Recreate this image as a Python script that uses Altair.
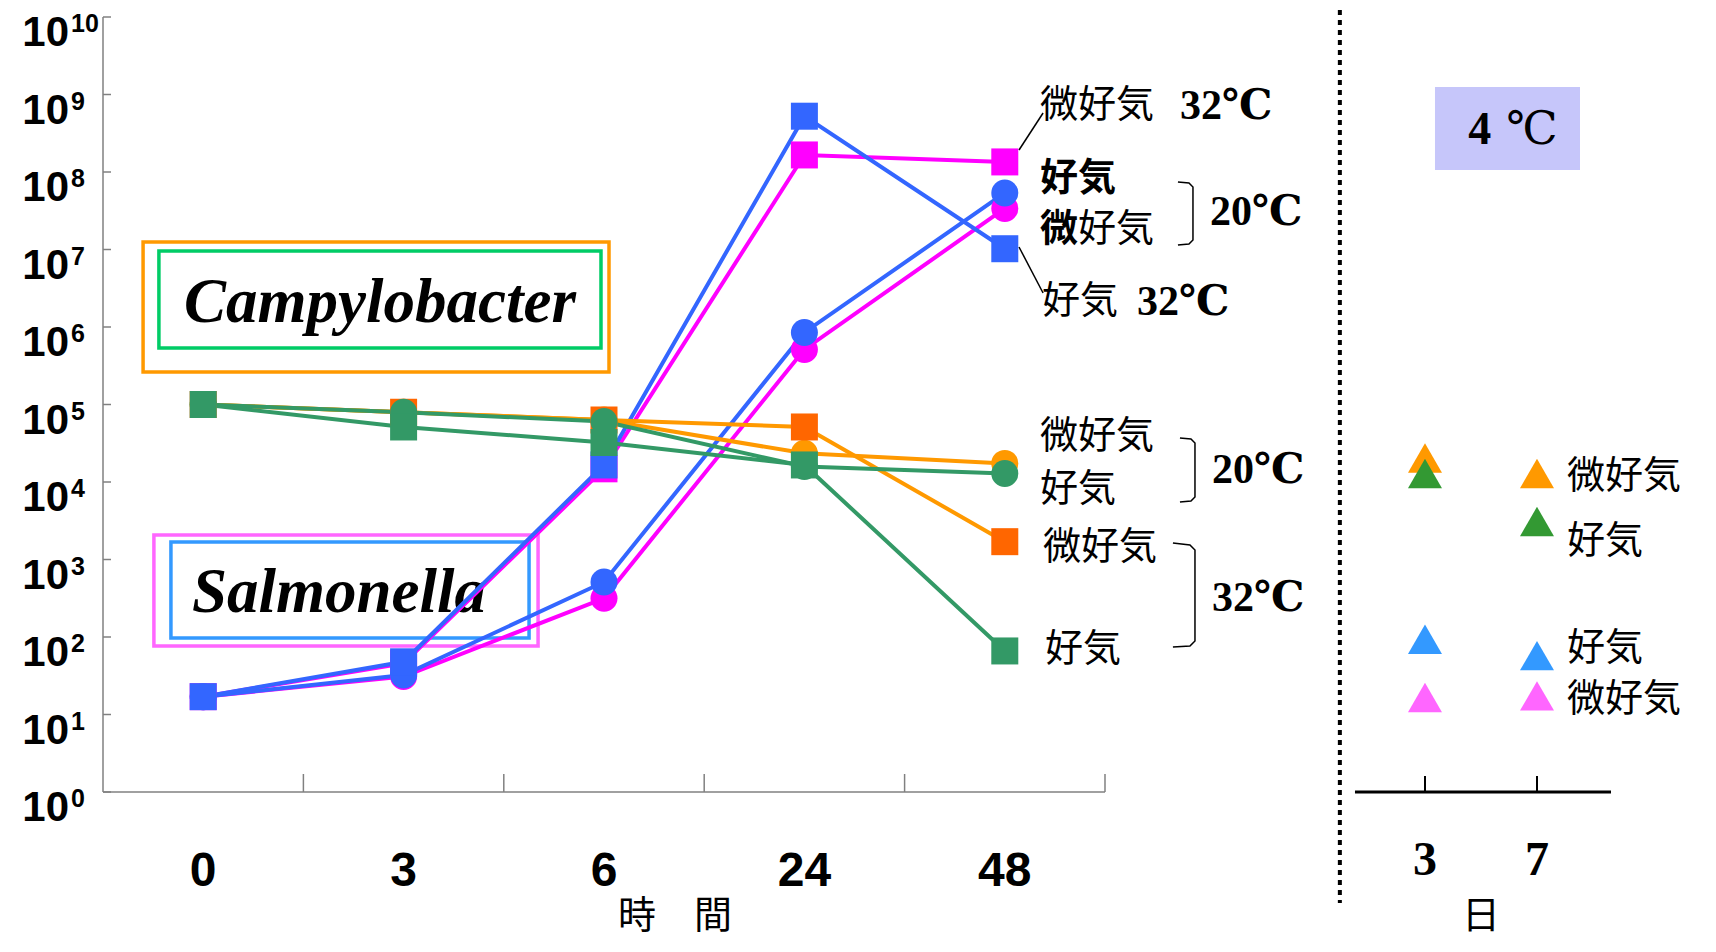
import altair as alt
import pandas as pd

# ---------------- data (log10 CFU) ----------------
categories = ["0", "3", "6", "24", "48"]          # hours
exponents = list(range(11))                        # 10^0 .. 10^10

campy_micro_32 = [5.00, 4.90, 4.80, 4.71, 3.23]
campy_aero_32 = [5.00, 4.71, 4.51, 4.22, 1.82]
campy_micro_20 = [5.00, 4.90, 4.80, 4.37, 4.24]
campy_aero_20 = [5.00, 4.90, 4.78, 4.20, 4.11]
salm_aero_32 = [1.23, 1.68, 4.22, 8.72, 7.01]
salm_micro_32 = [1.23, 1.66, 4.17, 8.22, 8.13]
salm_aero_20 = [1.23, 1.51, 2.71, 5.93, 7.73]
salm_micro_20 = [1.23, 1.49, 2.50, 5.71, 7.53]

days_4c = [3, 7]
campy_micro_4 = [4.31, 4.11]
campy_aero_4 = [4.11, 3.49]
salm_aero_4 = [1.97, 1.76]
salm_micro_4 = [1.22, 1.24]

# ---------------- styles ----------------
series = [  # key, values, shape, line colour, marker colour (drawing order)
    ("salm_micro_20", salm_micro_20, "circle", "#FF00FF", "#FF00FF"),
    ("salm_micro_32", salm_micro_32, "square", "#FF00FF", "#FF00FF"),
    ("salm_aero_20", salm_aero_20, "circle", "#3366FF", "#3366FF"),
    ("salm_aero_32", salm_aero_32, "square", "#3366FF", "#3366FF"),
    ("campy_micro_20", campy_micro_20, "circle", "#FF9900", "#FF9900"),
    ("campy_micro_32", campy_micro_32, "square", "#FF9900", "#FF6600"),
    ("campy_aero_20", campy_aero_20, "circle", "#339966", "#339966"),
    ("campy_aero_32", campy_aero_32, "square", "#339966", "#339966"),
]
tri_series = [
    ("campy_micro_4", campy_micro_4, "#FF9900"),
    ("campy_aero_4", campy_aero_4, "#339933"),
    ("salm_aero_4", salm_aero_4, "#3399FF"),
    ("salm_micro_4", salm_micro_4, "#FF66FF"),
]

W, H = 1508, 775
xL = alt.Scale(domain=[0, 7.525], nice=False, zero=False)        # category-index units
xR = alt.Scale(domain=[-44.21, 9.643], nice=False, zero=False)   # day units
yS = alt.Scale(domain=[0, 10], nice=False, zero=False)

SERIF = "Liberation Serif, DejaVu Serif, Noto Sans CJK JP"
CJK = "Noto Sans CJK JP"
SANS = "Liberation Sans, Arial, DejaVu Sans"
LAB = 38  # size of the Japanese labels


def XL(f):
    return alt.X(f, type="quantitative", scale=xL, axis=None)


def XR(f):
    return alt.X(f, type="quantitative", scale=xR, axis=None)


def Y(f):
    return alt.Y(f, type="quantitative", scale=yS, axis=None)


layers = []

# ---- axes (left) ----
df_exp = pd.DataFrame({"k": exponents, "e": [str(k) for k in exponents]})
layers.append(alt.Chart(pd.DataFrame({"a": [0], "b": [10]})).mark_rule(color="#808080", strokeWidth=1.5)
              .encode(x=alt.value(0), y=Y("a"), y2="b"))
layers.append(alt.Chart(df_exp).mark_rule(color="#808080", strokeWidth=1.5)
              .encode(x=alt.value(0), x2=alt.value(8), y=Y("k")))
layers.append(alt.Chart(df_exp).mark_text(font=SANS, fontWeight="bold", fontSize=42, align="right",
                                          baseline="middle", dy=16)
              .encode(x=alt.value(-34), y=Y("k"), text=alt.value("10")))
layers.append(alt.Chart(df_exp).mark_text(font=SANS, fontWeight="bold", fontSize=25, align="left",
                                          baseline="middle", dy=7)
              .encode(x=alt.value(-32), y=Y("k"), text="e:N"))

df_cat = pd.DataFrame({"pos": [i + 0.5 for i in range(len(categories))], "lab": categories,
                       "edge": [i + 1 for i in range(len(categories))], "zero": 0})
layers.append(alt.Chart(pd.DataFrame({"a": [0], "b": [len(categories)], "y": [0]}))
              .mark_rule(color="#808080", strokeWidth=1.5)
              .encode(x=XL("a"), x2="b", y=Y("y")))
layers.append(alt.Chart(df_cat).mark_rule(color="#808080", strokeWidth=1.5)
              .encode(x=XL("edge"), y=Y("zero"), y2=alt.value(H - 18)))
layers.append(alt.Chart(df_cat).mark_text(font=SANS, fontWeight="bold", fontSize=48, baseline="middle")
              .encode(x=XL("pos"), y=alt.value(855), text="lab:N"))
layers.append(alt.Chart(pd.DataFrame({"x": [2.854], "t": ["時　間"]}))
              .mark_text(font=CJK, fontSize=38, baseline="middle")
              .encode(x=XL("x"), y=alt.value(900), text="t:N"))

# ---- annotation boxes ----
boxes = pd.DataFrame({
    "x": [0.200, 0.279, 0.254, 0.339],
    "x2": [2.525, 2.485, 2.171, 2.126],
    "y": [7.097, 6.981, 3.316, 3.226],
    "y2": [5.419, 5.729, 1.884, 1.987],
    "c": ["#FF9900", "#00CC66", "#FF66FF", "#3399FF"],
})
layers.append(alt.Chart(boxes).mark_rect(fill="white", fillOpacity=0, strokeWidth=3.5)
              .encode(x=XL("x"), x2="x2", y=Y("y"), y2="y2", stroke=alt.Stroke("c:N", scale=None)))
layers.append(alt.Chart(pd.DataFrame({"x": [1.382, 1.178], "y": [6.065, 2.323],
                                      "t": ["Campylobacter", "Salmonella"]}))
              .mark_text(font="Liberation Serif", fontStyle="italic", fontWeight="bold", fontSize=63,
                         baseline="alphabetic", align="center")
              .encode(x=XL("x"), y=Y("y"), text="t:N"))

# ---- series lines then markers ----
rows = []
for key, vals, shape, lc, mc in series:
    for i, v in enumerate(vals):
        rows.append({"s": key, "pos": i + 0.5, "v": v, "lc": lc, "mc": mc, "shape": shape})
df_main = pd.DataFrame(rows)
for key, vals, shape, lc, mc in series:
    d = df_main[df_main.s == key]
    layers.append(alt.Chart(d).mark_line(strokeWidth=4, color=lc).encode(x=XL("pos"), y=Y("v")))
for key, vals, shape, lc, mc in series:
    d = df_main[df_main.s == key]
    layers.append(alt.Chart(d).mark_point(filled=True, shape=shape, size=729, opacity=1, color=mc,
                                          strokeWidth=0)
                  .encode(x=XL("pos"), y=Y("v")))

# ---- leader lines and brackets ----
lead = pd.DataFrame({
    "g": ["a", "a", "b", "b"],
    "o": [0, 1, 0, 1],
    "x": [4.571, 4.691, 4.571, 4.691],
    "y": [8.284, 8.761, 7.032, 6.439],
})
layers.append(alt.Chart(lead).mark_line(color="black", strokeWidth=1.5)
              .encode(x=XL("x"), y=Y("y"), detail="g:N", order="o:Q"))
br = pd.DataFrame({
    "g": ["u"] * 6 + ["m"] * 6 + ["l"] * 6,
    "o": list(range(6)) * 3,
    "x": [5.364, 5.419, 5.439, 5.439, 5.419, 5.364,
          5.374, 5.429, 5.449, 5.449, 5.429, 5.374,
          5.339, 5.424, 5.449, 5.449, 5.424, 5.339],
    "y": [7.871, 7.858, 7.806, 7.123, 7.071, 7.058,
          4.568, 4.555, 4.503, 3.806, 3.755, 3.742,
          3.213, 3.187, 3.123, 1.948, 1.884, 1.871],
})
layers.append(alt.Chart(br).mark_line(color="black", strokeWidth=1.5)
              .encode(x=XL("x"), y=Y("y"), detail="g:N", order="o:Q"))

# ---- labels at right of the series ----
reg = pd.DataFrame({
    "t": ["微好気", "好気", "好気", "微好気", "好気", "微好気", "好気"],
    "x": [4.676, 4.865, 4.686, 4.676, 4.676, 4.691, 4.701],
    "y": [8.852, 7.252, 6.323, 4.580, 3.900, 3.148, 1.832],
})
layers.append(alt.Chart(reg).mark_text(font=CJK, fontSize=LAB, align="left", baseline="middle")
              .encode(x=XL("x"), y=Y("y"), text="t:N"))
bold = pd.DataFrame({"t": ["好気", "微"], "x": [4.676, 4.676], "y": [7.910, 7.252]})
layers.append(alt.Chart(bold).mark_text(font=CJK, fontWeight="bold", fontSize=LAB, align="left",
                                        baseline="middle")
              .encode(x=XL("x"), y=Y("y"), text="t:N"))
temps = pd.DataFrame({
    "t": ["32℃", "20℃", "32℃", "20℃", "32℃"],
    "x": [5.374, 5.524, 5.160, 5.534, 5.534],
    "y": [8.852, 7.484, 6.323, 4.155, 2.503],
})
layers.append(alt.Chart(temps).mark_text(font=SERIF, fontWeight="bold", fontSize=42, align="left",
                                         baseline="middle")
              .encode(x=XL("x"), y=Y("y"), text="t:N"))

# ---- right panel (4 ℃, days) ----
layers.append(alt.Chart(pd.DataFrame({"x": [-0.04]}))
              .mark_rule(color="black", strokeWidth=4, strokeDash=[5, 5])
              .encode(x=XR("x"), y=alt.value(-17), y2=alt.value(886)))
layers.append(alt.Chart(pd.DataFrame({"a": [0.5], "b": [9.643], "y": [0]}))
              .mark_rule(color="black", strokeWidth=3)
              .encode(x=XR("a"), x2="b", y=Y("y")))
df_days = pd.DataFrame({"d": days_4c, "lab": [str(d) for d in days_4c], "zero": 0})
layers.append(alt.Chart(df_days).mark_rule(color="black", strokeWidth=2)
              .encode(x=XR("d"), y=Y("zero"), y2=alt.value(H - 16)))
layers.append(alt.Chart(df_days).mark_text(font=SERIF, fontWeight="bold", fontSize=48, baseline="middle")
              .encode(x=XR("d"), y=alt.value(844), text="lab:N"))
layers.append(alt.Chart(pd.DataFrame({"x": [5.0], "t": ["日"]}))
              .mark_text(font=CJK, fontSize=38, baseline="middle")
              .encode(x=XR("x"), y=alt.value(900), text="t:N"))
layers.append(alt.Chart(pd.DataFrame({"x": [3.357], "x2": [8.536], "y": [9.097], "y2": [8.026]}))
              .mark_rect(color="#c6c6fa")
              .encode(x=XR("x"), x2="x2", y=Y("y"), y2="y2"))
layers.append(alt.Chart(pd.DataFrame({"x": [4.96], "y": [8.542], "t": ["4"]}))
              .mark_text(font=SERIF, fontWeight="bold", fontSize=46, baseline="middle")
              .encode(x=XR("x"), y=Y("y"), text="t:N"))
layers.append(alt.Chart(pd.DataFrame({"x": [6.82], "y": [8.542], "t": ["℃"]}))
              .mark_text(font=SERIF, fontSize=46, baseline="middle")
              .encode(x=XR("x"), y=Y("y"), text="t:N"))

trows = []
for key, vals, c in tri_series:
    for d, v in zip(days_4c, vals):
        trows.append({"s": key, "d": d, "v": v, "c": c})
df_tri = pd.DataFrame(trows)
layers.append(alt.Chart(df_tri).mark_point(filled=True, shape="triangle-up", size=1156, opacity=1,
                                           strokeWidth=0)
              .encode(x=XR("d"), y=Y("v"), color=alt.Color("c:N", scale=None)))
tri_lab = pd.DataFrame({"t": ["微好気", "好気", "好気", "微好気"],
                        "x": [8.07, 8.07, 8.07, 8.07],
                        "y": [4.065, 3.226, 1.850, 1.190]})
layers.append(alt.Chart(tri_lab).mark_text(font=CJK, fontSize=LAB, align="left", baseline="middle")
              .encode(x=XR("x"), y=Y("y"), text="t:N"))

chart = (alt.layer(*layers)
         .resolve_scale(x="independent")
         .properties(width=W, height=H,
                     autosize=alt.AutoSizeParams(type="none"),
                     padding={"left": 95, "top": 9, "right": 90, "bottom": 152})
         .configure_view(stroke=None))

chart.save("out.html", embed_options={"renderer": "svg", "actions": False})
